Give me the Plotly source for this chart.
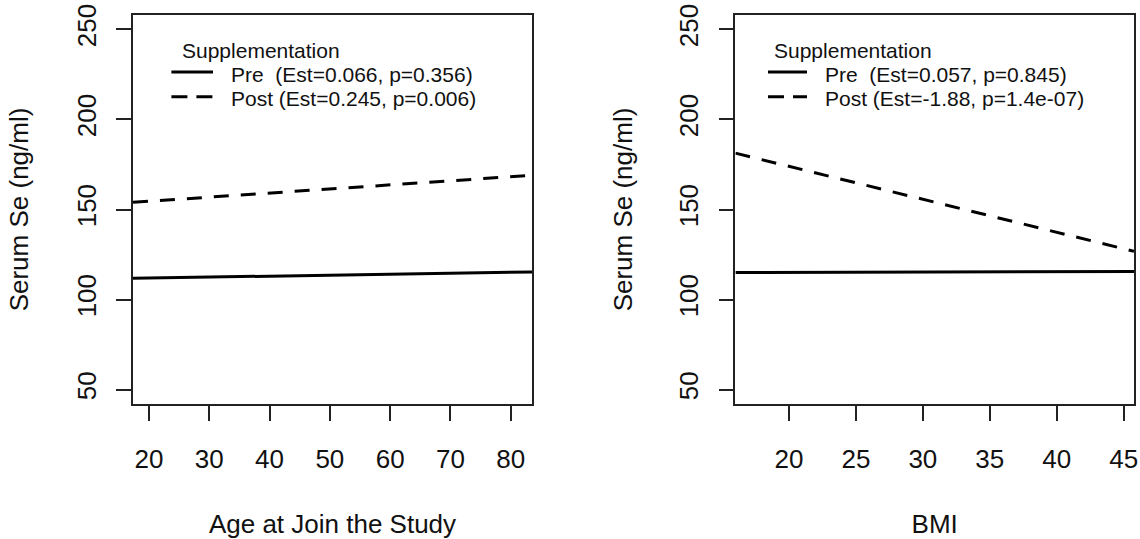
import plotly.graph_objects as go

# ---- data ----
age_x = [17.35, 83.53]
age_pre = [111.8, 115.3]
age_post = [154.0, 169.0]

bmi_x = [16.0, 45.77]
bmi_pre = [115.0, 115.6]
bmi_post = [181.3, 126.8]

age_ticks = [20, 30, 40, 50, 60, 70, 80]
bmi_ticks = [20, 25, 30, 35, 40, 45]
y_ticks = [50, 100, 150, 200, 250]

legend_title = "Supplementation"
age_names = ["Pre\u00a0\u00a0(Est=0.066, p=0.356)", "Post (Est=0.245, p=0.006)"]
bmi_names = ["Pre\u00a0\u00a0(Est=0.057, p=0.845)", "Post (Est=-1.88, p=1.4e-07)"]

FONT = "Liberation Sans, Arial, sans-serif"
W, H = 1140, 539
L, R, T, B = 133.3, 5.7, 15, 134.7
PW = W - L - R
PH = H - T - B


def px(xp):
    return (xp - L) / PW


def py(yp):
    return 1 - (yp - T) / PH


SOLID = dict(color="black", width=3)
DASHED = dict(color="black", width=3, dash="15px,12px")

fig = go.Figure()
fig.add_trace(go.Scatter(x=age_x, y=age_pre, mode="lines", name=age_names[0],
                         line=SOLID, xaxis="x", yaxis="y", showlegend=False))
fig.add_trace(go.Scatter(x=age_x, y=age_post, mode="lines", name=age_names[1],
                         line=DASHED, xaxis="x", yaxis="y", showlegend=False))
fig.add_trace(go.Scatter(x=bmi_x, y=bmi_pre, mode="lines", name=bmi_names[0],
                         line=SOLID, xaxis="x2", yaxis="y2", showlegend=False))
fig.add_trace(go.Scatter(x=bmi_x, y=bmi_post, mode="lines", name=bmi_names[1],
                         line=DASHED, xaxis="x2", yaxis="y2", showlegend=False))

axis_common = dict(showgrid=False, zeroline=False, showline=True, mirror=True,
                   linecolor="#222", linewidth=1.5, ticks="outside", ticklen=15,
                   tickcolor="#222", tickwidth=1.5,
                   tickfont=dict(family=FONT, size=26, color="#111"),
                   automargin=False)

xa = dict(axis_common, tickmode="array", ticklabelstandoff=16)
ya = dict(axis_common, tickmode="array", tickvals=y_ticks, range=[42, 258], tickangle=-90,
          ticklabelstandoff=10)

# ---- manual R-style legends (no box) ----
annotations = []
shapes = []
legend_specs = [
    # key start, key end, text x, title x, names
    (171.7, 213.3, 229.5, 180.5, age_names),
    (768.3, 807.3, 823.5, 772.0, bmi_names),
]
for k0, k1, tx, ttx, names in legend_specs:
    annotations.append(dict(xref="paper", yref="paper", x=px(ttx), y=py(51.0), text=legend_title,
                            showarrow=False, xanchor="left", yanchor="middle",
                            font=dict(family=FONT, size=21, color="#111")))
    for name, ty, ky, dash in [(name_, ty_, ky_, d_) for name_, ty_, ky_, d_ in
                               [(names[0], 75.0, 72.0, None), (names[1], 99.0, 96.7, "16px,9px")]]:
        annotations.append(dict(xref="paper", yref="paper", x=px(tx), y=py(ty), text=name,
                                showarrow=False, xanchor="left", yanchor="middle",
                                font=dict(family=FONT, size=21, color="#111")))
        line = dict(color="black", width=3)
        if dash:
            line["dash"] = dash
        shapes.append(dict(type="line", xref="paper", yref="paper",
                           x0=px(k0), x1=px(k1), y0=py(ky), y1=py(ky), line=line))

fig.update_layout(
    width=W, height=H,
    margin=dict(l=L, r=R, t=T, b=B),
    paper_bgcolor="white", plot_bgcolor="white",
    font=dict(family=FONT, color="#111"),
    xaxis=dict(xa, domain=[0, px(532.3)], range=[age_x[0], age_x[1]], tickvals=age_ticks,
               title=dict(text="Age at Join the Study", font=dict(size=26), standoff=42)),
    yaxis=dict(ya, domain=[0, 1], anchor="x",
               title=dict(text="Serum Se (ng/ml)", font=dict(size=26), standoff=36)),
    xaxis2=dict(xa, domain=[px(735.7), 1], range=[bmi_x[0], bmi_x[1]], tickvals=bmi_ticks,
                anchor="y2",
                title=dict(text="BMI", font=dict(size=26), standoff=42)),
    yaxis2=dict(ya, domain=[0, 1], anchor="x2",
                title=dict(text="Serum Se (ng/ml)", font=dict(size=26), standoff=34)),
    annotations=annotations,
    shapes=shapes,
    showlegend=False,
)

fig.write_html("out.html")
